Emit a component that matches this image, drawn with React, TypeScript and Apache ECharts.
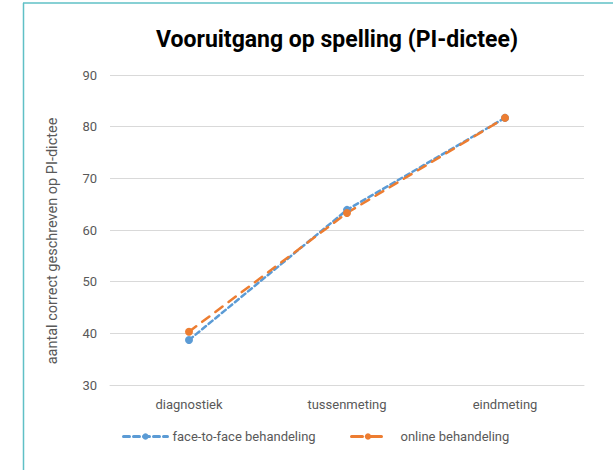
import React, { useEffect, useRef } from "react";
import * as echarts from "echarts";

const categories = ["diagnostiek", "tussenmeting", "eindmeting"];
const faceToFace = [38.7, 63.9, 81.7];
const online = [40.3, 63.3, 81.7];
const seriesNames = ["face-to-face behandeling", "online behandeling"];
const titleText = "Vooruitgang op spelling (PI-dictee)";
const yAxisTitle = "aantal correct geschreven op PI-dictee";

const FONT = "Roboto, 'Noto Sans', sans-serif";
const GRAY = "#595959";

export default function App() {
  const ref = useRef<HTMLDivElement>(null);
  useEffect(() => {
    if (!ref.current) return;
    const chart = echarts.init(ref.current, null, { renderer: "svg" });
    chart.setOption({
      animation: false,
      backgroundColor: "#ffffff",
      textStyle: { fontFamily: FONT },
      grid: { left: 110, right: 29, top: 75, bottom: 85 },
      xAxis: {
        type: "category",
        data: categories,
        axisLine: { show: true, lineStyle: { color: "#d9d9d9", width: 1 } },
        axisTick: { show: false },
        axisLabel: { color: GRAY, fontSize: 13, margin: 13, fontFamily: FONT },
      },
      yAxis: {
        type: "value",
        min: 30,
        max: 90,
        interval: 10,
        axisLine: { show: false },
        axisTick: { show: false },
        axisLabel: { color: GRAY, fontSize: 13, margin: 13, fontFamily: FONT },
        splitLine: { lineStyle: { color: "#d9d9d9", width: 1 } },
      },
      legend: [
        {
          data: [seriesNames[0]],
          left: 122,
          top: 430,
          padding: 0,
          itemWidth: 44,
          itemHeight: 8,
          lineStyle: { width: 3, type: [6, 4] },
          textStyle: { color: GRAY, fontSize: 13, fontFamily: FONT },
        },
        {
          data: [seriesNames[1]],
          left: 350,
          top: 430,
          padding: 0,
          itemWidth: 33,
          itemHeight: 8,
          lineStyle: { width: 3, type: [11, 8] },
          textStyle: { color: GRAY, fontSize: 13, fontFamily: FONT, padding: [0, 0, 0, 11] },
        },
      ],
      series: [
        {
          name: seriesNames[0],
          type: "line",
          data: faceToFace,
          symbol: "circle",
          symbolSize: 8,
          itemStyle: { color: "#5B9BD5" },
          lineStyle: { color: "#5B9BD5", width: 2.5, type: [5, 3.5], cap: "round" },
        },
        {
          name: seriesNames[1],
          type: "line",
          data: online,
          symbol: "circle",
          symbolSize: 8,
          itemStyle: { color: "#ED7D31" },
          lineStyle: { color: "#ED7D31", width: 2.5, type: [9, 7.5], cap: "round" },
        },
      ],
      graphic: [
        {
          type: "line",
          shape: { x1: 23.5, y1: 470, x2: 23.5, y2: 3 },
          style: { stroke: "#5fc0c6", lineWidth: 1.5 },
          silent: true,
        },
        {
          type: "line",
          shape: { x1: 23, y1: 3, x2: 613, y2: 3 },
          style: { stroke: "#5fc0c6", lineWidth: 1.5 },
          silent: true,
        },
        {
          type: "text",
          x: 337,
          y: 39,
          style: {
            text: titleText,
            fill: "#000000",
            font: `bold 23px ${FONT}`,
            align: "center",
            verticalAlign: "middle",
          },
        },
        {
          type: "text",
          x: 52,
          y: 241,
          rotation: Math.PI / 2,
          style: {
            text: yAxisTitle,
            fill: GRAY,
            font: `14.5px ${FONT}`,
            align: "center",
            verticalAlign: "middle",
          },
        },
      ],
    });
    return () => chart.dispose();
  }, []);
  return (
    <div
      ref={ref}
      style={{ position: "absolute", left: 0, top: 0, width: 613, height: 470 }}
    />
  );
}
